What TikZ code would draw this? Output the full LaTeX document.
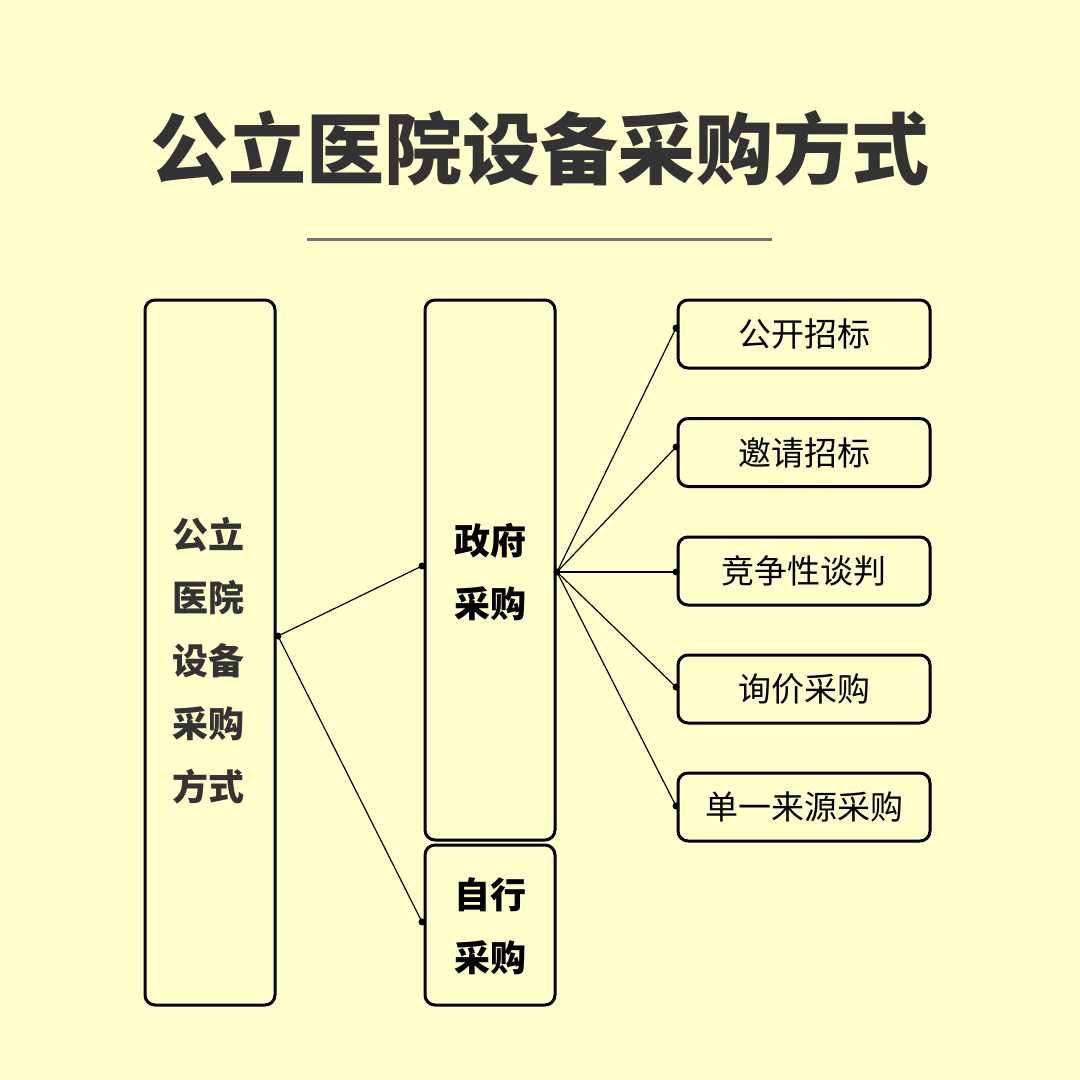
\documentclass[tikz,border=0pt]{standalone}
\usepackage{fontspec}
\setmainfont{Noto Sans CJK SC}
\begin{document}
\begin{tikzpicture}[x=1pt,y=-1pt,
  box/.style={draw=black,line width=3pt,rounded corners=10pt,fill=none},
  lbl/.style={font=\fontsize{36}{63}\selectfont\bfseries,align=center},
  rt/.style={font=\fontsize{33}{40}\selectfont},
  dot/.style={circle,fill=black,inner sep=0pt,minimum size=7pt},
  ln/.style={line width=1.2pt}]
\definecolor{bg}{HTML}{FFFFCC}
\definecolor{dk}{HTML}{333333}
\fill[bg] (0,0) rectangle (1080,1080);
\useasboundingbox (0,0) rectangle (1080,1080);
\node[text=dk,font=\fontsize{78}{80}\selectfont\bfseries] (title) at (540,148) {公立医院设备采购方式};
\draw[line width=3pt,color=black!55] (307,239) -- (772,239);
\node[box,minimum width=130pt,minimum height=705pt] (L) at (210,652.5) {};
\node[lbl,text=dk] (Lt) at (208,661) {公立\\医院\\设备\\采购\\方式};
\node[box,minimum width=130pt,minimum height=540pt] (G) at (490,570) {};
\node[lbl] (Gt) at (490,572) {政府\\采购};
\node[box,minimum width=130pt,minimum height=160pt] (S) at (490,925) {};
\node[lbl] (St) at (490,926) {自行\\采购};
\foreach \n/\y/\t in {r1/334/公开招标,r2/452.5/邀请招标,r3/571/竞争性谈判,r4/689/询价采购,r5/807/单一来源采购}{
  \node[box,minimum width=252pt,minimum height=68pt] (\n) at (804,\y) {};
  \node[rt] at (804,\y) {\t};
}
\coordinate (a) at (278,636);
\coordinate (b1) at (422,566);
\coordinate (b2) at (422,922);
\coordinate (c) at (557,572);
\draw[ln] (a) -- (b1); \draw[ln] (a) -- (b2);
\foreach \p in {a,b1,b2,c} \node[dot] at (\p) {};
\foreach \n/\y in {r1/328,r2/447,r3/572,r4/687,r5/806}{
  \coordinate (e\n) at (676,\y);
  \draw[ln] (c) -- (e\n);
  \node[dot] at (e\n) {};
}
\end{tikzpicture}
\end{document}
